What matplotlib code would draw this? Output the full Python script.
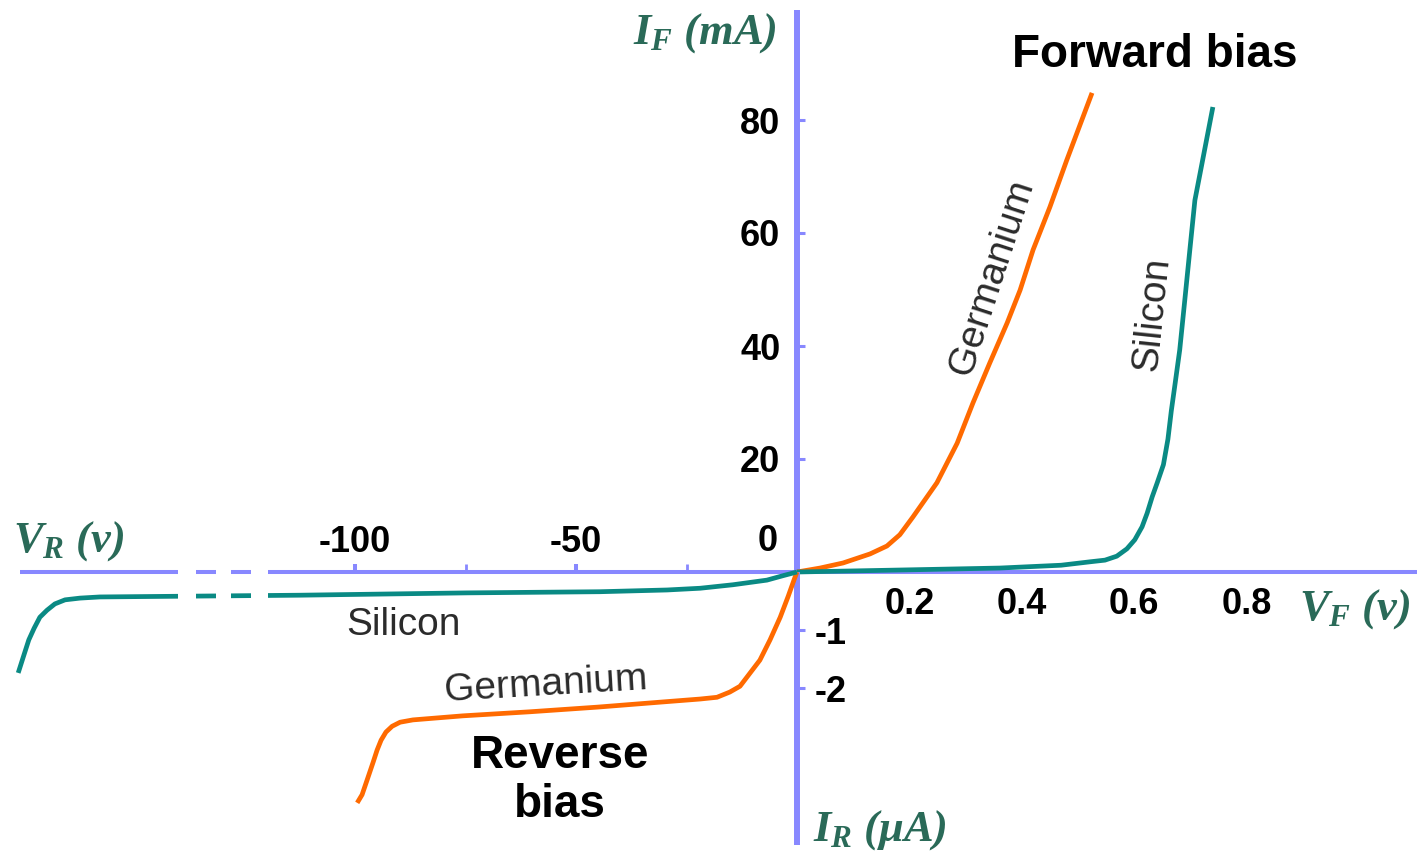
import numpy as np
import matplotlib.pyplot as plt

plt.rcParams['font.family'] = ['Liberation Sans', 'DejaVu Sans']
plt.rcParams['mathtext.fontset'] = 'custom'
plt.rcParams['mathtext.it'] = 'Liberation Serif:italic:bold'
plt.rcParams['mathtext.rm'] = 'Liberation Serif:italic:bold'

# Forward bias: voltage (V) and current (mA)
ge_fwd_v = [0, 0.041, 0.082, 0.130, 0.160, 0.183, 0.206, 0.249, 0.285, 0.313, 0.343, 0.374, 0.397, 0.420, 0.450, 0.480, 0.525]
ge_fwd_ma = [0, 0.7, 1.6, 3.2, 4.6, 6.6, 9.7, 15.8, 22.8, 29.9, 37.0, 44.1, 49.9, 57.0, 64.6, 72.9, 84.8]
si_fwd_v = [0, 0.183, 0.361, 0.470, 0.521, 0.548, 0.569, 0.587, 0.601, 0.614, 0.623, 0.632, 0.641, 0.652, 0.660, 0.666, 0.673, 0.681, 0.690, 0.699, 0.708, 0.740]
si_fwd_ma = [0, 0.35, 0.7, 1.2, 1.8, 2.1, 2.8, 4.1, 5.7, 8.0, 10.4, 13.3, 15.8, 19.0, 23.5, 28.5, 33.5, 39.3, 48.1, 57.0, 65.8, 82.3]

# Reverse bias: voltage (V) and current (uA)
si_rev_v = [0, -3.0, -6.8, -14.5, -21.9, -29.4, -44.6, -74.7, -112.4, -157.7, -162.2, -165.6, -167.9, -169.7, -171.3, -172.6, -173.8, -174.9, -176.2]
si_rev_ua = [0, -0.06, -0.14, -0.22, -0.28, -0.31, -0.34, -0.36, -0.40, -0.43, -0.45, -0.48, -0.55, -0.66, -0.78, -0.97, -1.17, -1.43, -1.74]
ge_rev_v = [0, -0.5, -2.0, -3.8, -6.1, -8.4, -11.3, -12.9, -15.2, -18.1, -21.9, -30.3, -45.2, -60.4, -75.6, -86.9, -89.8, -91.6, -93.0, -94.1, -95.0, -95.9, -97.1, -98.4, -99.5]
ge_rev_ua = [0, -0.10, -0.42, -0.78, -1.17, -1.52, -1.81, -1.97, -2.07, -2.16, -2.19, -2.24, -2.33, -2.41, -2.48, -2.55, -2.59, -2.66, -2.76, -2.90, -3.07, -3.28, -3.55, -3.84, -3.98]

fwd_v_ticks = [0.2, 0.4, 0.6, 0.8]
fwd_i_ticks = [20, 40, 60, 80]
rev_v_ticks = [-100, -50]
rev_v_minor = [-75, -25]
rev_i_ticks = [-1, -2]
breaks_v = [(-140.0, -136.0), (-131.4, -128.1), (-123.5, -119.7)]

# layout (pixels)
W, H = 1417, 858
OX, OY = 797, 572
PX_V_FWD, PX_MA = 562, 5.65
PX_V_REV, PX_UA = 4.42, 58

AXIS = '#8888ff'
ORANGE = '#ff6a00'
TEAL = '#0a8a84'
LABEL = '#2a6a58'
TXT = '#2b2b2b'

fig = plt.figure(figsize=(W / 100, H / 100), dpi=100)
ax_f = fig.add_axes([OX / W, (H - OY) / H, (W - OX) / W, OY / H])
ax_r = fig.add_axes([0, 0, OX / W, (H - OY) / H])
for ax in (ax_f, ax_r):
    ax.set_facecolor('none')

ax_f.set_xlim(0, (W - OX) / PX_V_FWD)
ax_f.set_ylim(0, OY / PX_MA)
ax_r.set_xlim(-OX / PX_V_REV, 0)
ax_r.set_ylim(-(H - OY) / PX_UA, 0)

# curves
line = dict(lw=3.4, clip_on=False, zorder=4, solid_capstyle='butt', solid_joinstyle='round')
ax_f.plot(ge_fwd_v, ge_fwd_ma, color=ORANGE, **line)
ax_f.plot(si_fwd_v, si_fwd_ma, color=TEAL, **line)
ax_r.plot(ge_rev_v, ge_rev_ua, color=ORANGE, **line)
ax_r.plot(si_rev_v, si_rev_ua, color=TEAL, **line)

# axis lines
for s in ['top', 'right']:
    ax_f.spines[s].set_visible(False)
for s in ['left', 'bottom']:
    ax_r.spines[s].set_visible(False)
ax_f.spines['left'].set_linewidth(4.3)
ax_f.spines['left'].set_bounds(0, (OY - 10) / PX_MA)
ax_f.spines['bottom'].set_linewidth(2.9)
ax_r.spines['top'].set_linewidth(2.9)
ax_r.spines['top'].set_bounds(-(OX - 20) / PX_V_REV, 0)
ax_r.spines['right'].set_linewidth(4.3)
ax_r.spines['right'].set_bounds(-(845 - OY) / PX_UA, 0)
for ax in (ax_f, ax_r):
    for s in ax.spines.values():
        s.set_color(AXIS)
        s.set_capstyle('butt')

# broken axis gaps
for a, b in breaks_v:
    ax_r.axvspan(a, b, ymin=0.84, ymax=1.06, color='white', zorder=6, clip_on=False, lw=0)

tick_font = dict(fontsize=26, fontweight='bold')

ax_f.set_xticks(fwd_v_ticks)
ax_f.set_xticklabels([str(v) for v in fwd_v_ticks], **tick_font)
ax_f.set_xticks([0.8], minor=True)
ax_f.tick_params(axis='x', which='major', length=0, pad=11)
ax_f.tick_params(axis='x', which='minor', direction='in', length=7, width=2.2, color=AXIS)
ax_f.set_yticks(fwd_i_ticks)
ax_f.set_yticklabels([str(v) for v in fwd_i_ticks], **tick_font)
ax_f.tick_params(axis='y', direction='in', length=6, width=2.2, color=AXIS, pad=12)

ax_r.xaxis.set_ticks_position('top')
ax_r.set_xticks(rev_v_ticks)
ax_r.set_xticklabels([str(v) for v in rev_v_ticks], **tick_font)
ax_r.set_xticks(rev_v_minor, minor=True)
ax_r.tick_params(axis='x', which='major', direction='out', length=6, width=2.9, color=AXIS, pad=3)
ax_r.tick_params(axis='x', which='minor', direction='out', length=6, width=2.0, color=AXIS)
ax_r.yaxis.set_ticks_position('right')
ax_r.set_yticks(rev_i_ticks)
ax_r.set_yticklabels([str(v) for v in rev_i_ticks], **tick_font)
ax_r.tick_params(axis='y', direction='out', length=6, width=2.2, color=AXIS, pad=7)

ax_f.annotate('0', xy=(0, 0), xytext=(-21, 22), textcoords='offset points',
              ha='center', va='center', annotation_clip=False, **tick_font)

# axis titles
lab = dict(fontsize=32, color=LABEL, ha='center', va='center',
           family='Liberation Serif', style='italic', fontweight='bold')
fig.text(705 / W, 1 - 33 / H, r'$I_F$ (mA)', **lab)
fig.text(69 / W, 1 - 541 / H, r'$V_R$ (v)', **lab)
fig.text(1355 / W, 1 - 609 / H, r'$V_F$ (v)', **lab)
fig.text(880 / W, 1 - 830 / H, r'$I_R$ ($\mu$A)', **lab)

# curve labels
ax_f.text(0.347, 52.2, 'Germanium', fontsize=28, color=TXT, rotation=72,
          ha='center', va='center', rotation_mode='anchor')
ax_f.text(0.633, 45.7, 'Silicon', fontsize=28, color=TXT, rotation=84,
          ha='center', va='center', rotation_mode='anchor')
ax_r.text(-89.1, -0.91, 'Silicon', fontsize=28, color=TXT, ha='center', va='center')
ax_r.text(-56.8, -1.95, 'Germanium', fontsize=28, color=TXT, rotation=3.4,
          ha='center', va='center', rotation_mode='anchor')

ax_f.text(0.637, 91.5, 'Forward bias', fontsize=33, fontweight='bold', ha='center', va='center')
ax_r.text(-53.6, -3.6, 'Reverse\nbias', fontsize=33, fontweight='bold', ha='center', va='center',
          multialignment='center', linespacing=1.15)

fig.savefig('out.png', dpi=100, facecolor='white')
